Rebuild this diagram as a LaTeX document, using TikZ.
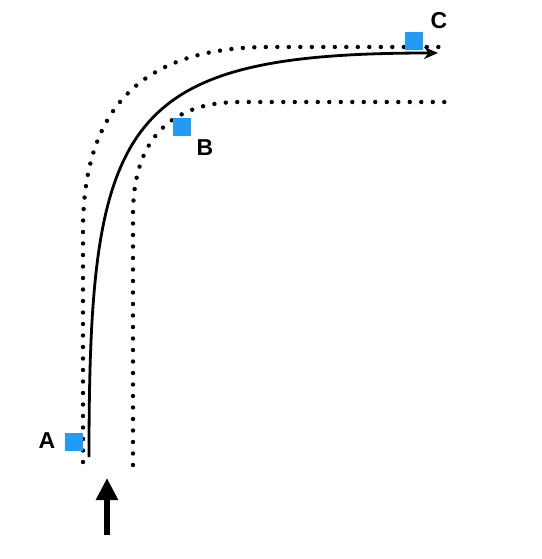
\documentclass[tikz,border=0pt]{standalone}
\usepackage{fontspec}
\setmainfont{Liberation Sans}
\usetikzlibrary{arrows.meta}
\definecolor{markblue}{RGB}{33,155,245}
\tikzset{
  track/.style={line width=4.4pt, line cap=round, dash pattern=on 0pt off 11.5pt},
  route/.style={line width=2.8pt, -{Stealth[length=14pt,width=12pt]}},
  marker/.style={fill=markblue, minimum size=18pt, inner sep=0pt},
  tag/.style={font=\fontsize{23}{23}\selectfont\bfseries, inner sep=0pt}
}
\begin{document}
\begin{tikzpicture}[x=1pt, y=-1pt]
    \useasboundingbox (0,0) rectangle (541,559);
    % walls of the bend
    \draw[track] (83,462) -- (83,230) .. controls (83,100) and (150,47) .. (270,47) -- (447,47);
    \draw[track] (133,465) -- (133,215) .. controls (133,130) and (180,102) .. (240,102) -- (455,102);
    % markers
    \node[marker] (sqA) at (74,442) {};
    \node[marker] (sqB) at (182,127) {};
    \node[marker] (sqC) at (414,41) {};
    \node[tag] (labA) at (47,441) {A};
    \node[tag] (labB) at (205,148) {B};
    \node[tag] (labC) at (439,21) {C};
    % path taken
    \coordinate (start) at (89,457);
    \coordinate (finish) at (438,53);
    \draw[route] (start) .. controls (89,120) and (120,53) .. (finish);
    % entry arrow
    \coordinate (tail) at (107,535);
    \coordinate (head) at (107,478);
    \draw[line width=5.5pt, -{Triangle[length=22pt,width=21pt]}] (tail) -- (head);
\end{tikzpicture}
\end{document}
